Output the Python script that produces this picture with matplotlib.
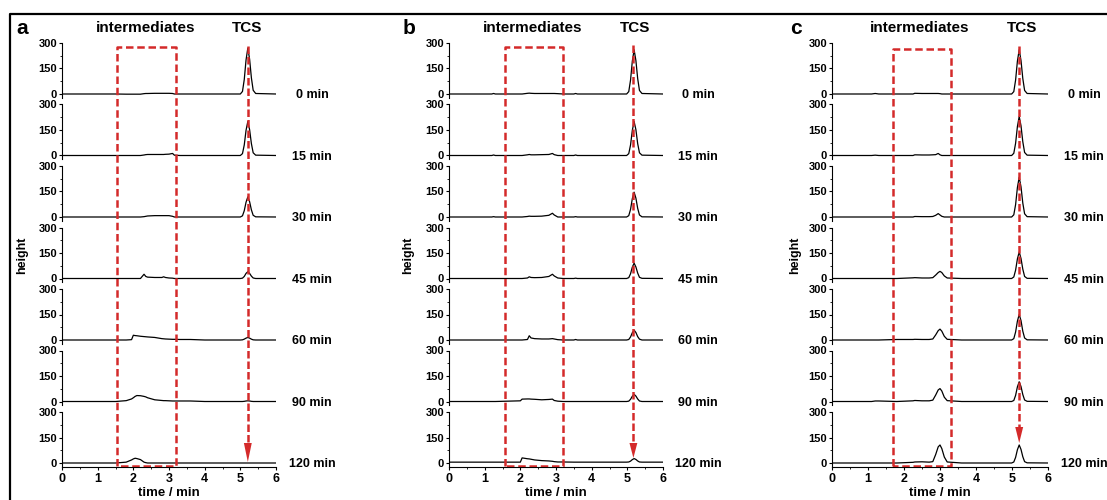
import matplotlib
matplotlib.use("Agg")
import matplotlib.pyplot as plt
from matplotlib.patches import Polygon
from matplotlib.lines import Line2D
from matplotlib.ticker import MultipleLocator
from matplotlib.transforms import blended_transform_factory

plt.rcParams['font.family'] = ['Liberation Sans', 'DejaVu Sans']
plt.rcParams['font.weight'] = 'bold'

# sampling times (labels on the right of each trace)
times = ["0 min", "15 min", "30 min", "45 min", "60 min", "90 min", "120 min"]

# panel a: retention time grid (min) and heights for each sampling time
grid_a = [0, 1.5, 1.8, 1.95, 2.0, 2.05, 2.1, 2.2, 2.3, 2.35, 2.4, 2.6, 2.8, 2.85, 2.9,
          3.0, 3.1, 3.15, 3.3, 3.6, 4.0,
          5.0, 5.06, 5.11, 5.16, 5.21, 5.26, 5.31, 5.36, 5.43, 6.0]
a_0 = [0, 0, -1, -1, -1, -1, -1, -1, 2, 3, 3, 4, 4, 4, 4, 4, 3, 0, 0, 0, 0,
       0, 15, 85, 200, 270, 205, 95, 22, 3, 0]
a_15 = [0, 0, 0, 0, 0, 0, 0, 0, 3, 5, 6, 6, 6, 6, 7, 8, 12, 2, 0, 0, 0,
        0, 11, 62, 148, 200, 152, 70, 16, 2, 0]
a_30 = [0, 0, 0, 0, 0, 0, 0, 0, 2, 4, 6, 8, 8, 8, 8, 8, 4, 0, 0, 0, 0,
        0, 7, 37, 87, 118, 90, 42, 10, 1, 0]
a_45 = [0, 0, 0, 0, 0, 0, 0, 0, 25, 12, 8, 6, 6, 10, 6, 3, 2, 0, 0, 0, 0,
        0, 2, 12, 30, 40, 30, 14, 3, 0, 0]
a_60 = [0, 0, 0, 2, 28, 26, 25, 22, 20, 19, 18, 15, 8, 7, 6, 5, 4, 4, 3, 3, 0,
        0, 1, 5, 11, 15, 11, 5, 1, 0, 0]
a_90 = [0, 0, 5, 15, 22, 30, 35, 34, 30, 27, 22, 10, 6, 5, 5, 4, 3, 3, 3, 3, 0,
        0, 0, 1, 3, 4, 3, 1, 0, 0, 0]
a_120 = [0, 0, 5, 18, 24, 28, 26, 20, 5, 2, 0, 0, 0, 0, 0, 0, 0, 0, 0, 0, 0,
         0, 0, 0, 0, 0, 0, 0, 0, 0, 0]

# panel b
grid_b = [0, 1.2, 1.25, 1.3, 2.0, 2.05, 2.2, 2.25, 2.3, 2.4, 2.6, 2.8, 2.9, 2.95, 3.05,
          3.2, 3.5, 3.55, 3.6,
          4.98, 5.04, 5.09, 5.14, 5.19, 5.24, 5.29, 5.34, 5.41, 6.0]
b_0 = [0, 0, 3, 0, 0, 0, 4, 5, 4, 3, 3, 3, 3, 3, 2, 0, 0, 3, 0,
       0, 14, 82, 193, 260, 197, 91, 21, 3, 0]
b_15 = [0, 0, 3, 0, 0, 0, 4, 6, 4, 4, 5, 6, 12, 5, 0, 0, 0, 3, 0,
        0, 11, 62, 148, 200, 152, 70, 16, 2, 0]
b_30 = [0, 0, 2, 0, 0, 0, 3, 5, 4, 4, 5, 10, 22, 12, 0, 0, 0, 2, 0,
        0, 8, 45, 108, 146, 111, 51, 12, 1, 0]
b_45 = [0, 0, 0, 0, 0, 0, 3, 10, 6, 5, 6, 12, 25, 15, 3, 0, 0, 2, 0,
        0, 5, 28, 67, 90, 68, 32, 7, 1, 0]
b_60 = [0, 0, 0, 0, 0, 0, 3, 25, 12, 8, 6, 6, 8, 6, 2, 0, 0, 3, 0,
        0, 3, 18, 43, 58, 44, 20, 5, 0, 0]
b_90 = [0, 0, 0, 0, 4, 14, 15, 15, 14, 13, 10, 12, 14, 6, 2, 0, 0, 0, 0,
        0, 2, 13, 31, 42, 32, 15, 3, 0, 0]
b_120 = [5, 5, 5, 5, 5, 30, 25, 24, 22, 18, 14, 12, 10, 8, 6, 6, 5, 5, 5,
         5, 6, 11, 20, 26, 21, 12, 6, 5, 5]

# panel c
grid_c = [0, 1.1, 1.2, 1.3, 1.8, 2.25, 2.3, 2.5, 2.7, 2.8, 2.88, 2.95, 3.0, 3.05, 3.12,
          3.2, 3.6,
          4.99, 5.05, 5.1, 5.15, 5.2, 5.25, 5.3, 5.35, 5.42, 6.0]
c_0 = [0, 0, 3, 0, 0, 0, 4, 3, 3, 3, 3, 3, 2, 0, 0, 0, 0,
       0, 14, 82, 193, 260, 197, 91, 21, 3, 0]
c_15 = [0, 0, 2, 0, 0, 0, 4, 3, 3, 4, 5, 12, 4, 0, 0, 0, 0,
        0, 13, 72, 170, 230, 175, 81, 18, 2, 0]
c_30 = [0, 0, 0, 0, 0, 0, 3, 2, 2, 3, 10, 20, 12, 4, 0, 0, 0,
        0, 13, 73, 173, 234, 178, 82, 19, 2, 0]
c_45 = [0, 0, 0, 0, 0, 4, 5, 3, 3, 5, 20, 35, 42, 35, 15, 3, 0,
        0, 9, 49, 115, 156, 118, 55, 12, 1, 0]
c_60 = [0, 0, 0, 0, 3, 3, 4, 3, 3, 6, 30, 55, 64, 52, 22, 4, 0,
        0, 8, 47, 111, 150, 114, 52, 12, 1, 0]
c_90 = [0, 0, 3, 3, 0, 4, 6, 4, 4, 8, 38, 68, 76, 62, 25, 5, 0,
        0, 6, 36, 86, 116, 88, 41, 9, 1, 0]
c_120 = [0, 0, 0, 0, 0, 4, 6, 7, 5, 8, 50, 95, 106, 85, 35, 6, 0,
         0, 6, 33, 78, 106, 80, 37, 8, 1, 0]

# intermediates window and TCS arrow position (min)
box_a, box_b, box_c = (1.55, 3.2), (1.57, 3.19), (1.70, 3.31)
tcs_a, tcs_b, tcs_c = 5.21, 5.17, 5.2

W, H = 1107, 500
RED = '#d42a2a'

# layout in pixels: left, width, letter x, ylabel x, time label x,
# box top, arrow top, arrow tip, arrowhead start
panels = [
    dict(letter="a", grid=grid_a, traces=[a_0, a_15, a_30, a_45, a_60, a_90, a_120],
         box=box_a, tcs=tcs_a, left=62, width=214, lx=22, ylx=22, tx=312,
         inter_x=146, tcs_x=247, box_top=47, arr_top=46, arr_tip=462, arr_head=443),
    dict(letter="b", grid=grid_b, traces=[b_0, b_15, b_30, b_45, b_60, b_90, b_120],
         box=box_b, tcs=tcs_b, left=449, width=214, lx=409, ylx=408, tx=698,
         inter_x=533, tcs_x=635, box_top=47, arr_top=45, arr_tip=458, arr_head=443),
    dict(letter="c", grid=grid_c, traces=[c_0, c_15, c_30, c_45, c_60, c_90, c_120],
         box=box_c, tcs=tcs_c, left=832, width=216, lx=796, ylx=795, tx=1084,
         inter_x=920, tcs_x=1022, box_top=49, arr_top=46, arr_tip=443, arr_head=427),
]

# each small axis: 300 units over 51 px, 23 units below zero
top_px, step_px = 43, 61.5
ax_h_px = 51 * 323 / 300
stack_bot = top_px + 6 * step_px + ax_h_px

fig = plt.figure(figsize=(W / 100, H / 100), dpi=100)


def fy(py):
    return 1 - py / H


for p in panels:
    for i, (lab, h) in enumerate(zip(times, p['traces'])):
        t = top_px + i * step_px
        ax = fig.add_axes([p['left'] / W, fy(t + ax_h_px), p['width'] / W, ax_h_px / H])
        ax.plot(p['grid'], h, color='black', lw=0.9)
        ax.set_xlim(0, 6)
        ax.set_ylim(-23, 300)
        ax.set_yticks([0, 150, 300])
        ax.yaxis.set_minor_locator(MultipleLocator(75))
        ax.tick_params(axis='y', which='major', length=2.5, width=0.8, pad=1, labelsize=8)
        ax.tick_params(axis='y', which='minor', length=1.5, width=0.6)
        for s in ['top', 'right']:
            ax.spines[s].set_visible(False)
        ax.spines['left'].set_linewidth(0.8)
        ax.patch.set_alpha(0)
        if i < 6:
            ax.spines['bottom'].set_visible(False)
            ax.tick_params(axis='x', which='both', bottom=False, labelbottom=False)
        else:
            ax.spines['bottom'].set_linewidth(0.8)
            ax.set_xticks(range(7))
            ax.xaxis.set_minor_locator(MultipleLocator(0.5))
            ax.tick_params(axis='x', which='major', length=2.5, width=0.8, pad=2, labelsize=9)
            ax.tick_params(axis='x', which='minor', length=1.5, width=0.6)
            ax.set_xlabel("time / min", fontsize=9.5, fontweight='bold', labelpad=1)
        tr = blended_transform_factory(fig.transFigure, ax.transData)
        ax.text(p['tx'] / W, -6, lab, transform=tr, ha='center', va='center',
                fontsize=9, fontweight='bold')

    # overlay for dashed window and arrow
    ov = fig.add_axes([p['left'] / W, fy(stack_bot), p['width'] / W, (stack_bot - top_px) / H])
    ov.set_xlim(0, 6)
    ov.set_ylim(0, 1)
    ov.axis('off')

    def oy(py):
        return (stack_bot - py) / (stack_bot - top_px)

    x0, x1 = p['box']
    yb, yt = oy(466), oy(p['box_top'])
    ov.plot([x0, x0, x1, x1, x0], [yb, yt, yt, yb, yb], color=RED, lw=1.8,
            dashes=(3, 1.5), solid_capstyle='butt')
    xa = p['tcs']
    ov.plot([xa, xa], [oy(p['arr_top']), oy(p['arr_head'])], color=RED, lw=1.8, dashes=(3, 1.2))
    ov.add_patch(Polygon([(xa - 0.11, oy(p['arr_head'])), (xa + 0.11, oy(p['arr_head'])),
                          (xa, oy(p['arr_tip']))], closed=True, color=RED, lw=0))

    fig.text(p['lx'] / W, fy(29), p['letter'], fontsize=15, fontweight='bold', ha='center', va='center')
    fig.text(p['inter_x'] / W, fy(28), "intermediates", fontsize=11, fontweight='bold', ha='center', va='center')
    fig.text(p['tcs_x'] / W, fy(28), "TCS", fontsize=11, fontweight='bold', ha='center', va='center')
    fig.text(p['ylx'] / W, fy(255), "height", fontsize=9, fontweight='bold', rotation=90,
             ha='center', va='center')

# outer frame (top and left edges visible)
fig.add_artist(Line2D([10 / W, 10 / W, 1], [0, fy(14), fy(14)], color='black', lw=1.6,
                      transform=fig.transFigure))

fig.savefig("out.png", dpi=100)
